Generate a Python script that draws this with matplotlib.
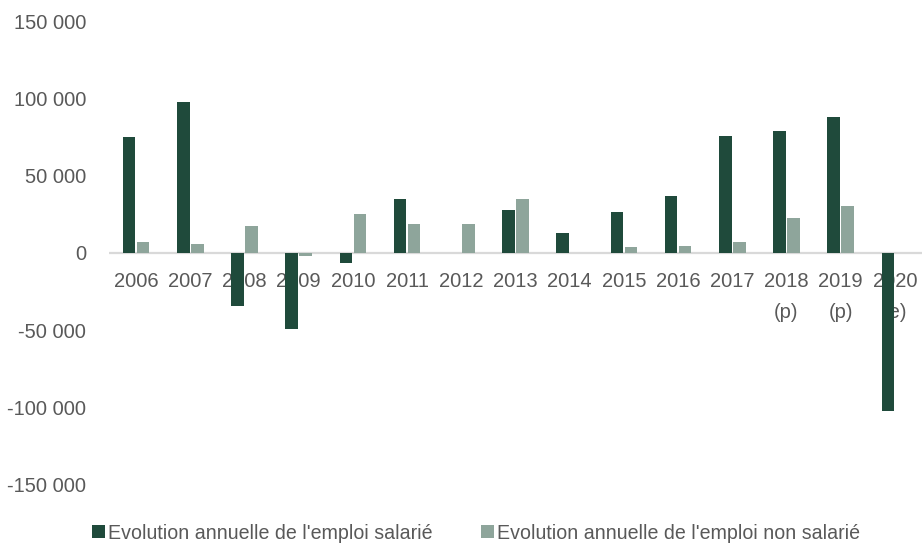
import numpy as np
import matplotlib
matplotlib.use('Agg')
import matplotlib.pyplot as plt
from matplotlib.ticker import FuncFormatter

# annual change in employment, 2006-2020
years = ['2006', '2007', '2008', '2009', '2010', '2011', '2012', '2013',
         '2014', '2015', '2016', '2017', '2018\n(p)', '2019\n(p)', '2020\n(e)']
salaried = [75000, 98000, -34500, -49500, -6300, 35000, 0, 28000,
            13000, 26600, 37000, 75500, 79000, 88000, -102500]
non_salaried = [7000, 6000, 17500, -2000, 25300, 18800, 18800, 35000,
                0, 3900, 4500, 7100, 22700, 30200, 0]
labels = ["Evolution annuelle de l'emploi salarié",
          "Evolution annuelle de l'emploi non salarié"]

DARK = '#1f4a3b'
LIGHT = '#8ea59b'
TEXT = '#595959'

plt.rcParams['font.family'] = ['Liberation Sans', 'DejaVu Sans']

fig = plt.figure(figsize=(9.22, 5.44), dpi=100)
ax = fig.add_axes([0.1182, 0.1092, 0.8818, 0.8515])

x = np.arange(len(years))
w = 0.232
gap = 0.028
ax.bar(x - (w + gap) / 2, salaried, w, color=DARK, linewidth=0,
       label=labels[0], zorder=2)
ax.bar(x + (w + gap) / 2, non_salaried, w, color=LIGHT, linewidth=0,
       label=labels[1], zorder=2)

ax.axhline(0, color='#d9d9d9', linewidth=1.6, zorder=1)
ax.set_xlim(-0.5, len(years) - 0.5)
ax.set_ylim(-150000, 150000)
ax.set_yticks(np.arange(-150000, 150001, 50000))
ax.yaxis.set_major_formatter(FuncFormatter(lambda v, p: f'{int(v):,}'.replace(',', ' ')))

for s in ax.spines.values():
    s.set_visible(False)
ax.tick_params(axis='both', length=0, labelsize=14.5, labelcolor=TEXT)
ax.tick_params(axis='y', pad=16.5)
ax.set_xticks(x)
ax.set_xticklabels([])

# year labels sit just under the zero line, not at the bottom of the axes
for xi, lab in zip(x, years):
    ax.text(xi, -12500, lab, ha='center', va='top', fontsize=14.5,
            color=TEXT, linespacing=1.75, zorder=1)

fig.legend(loc='center left', bbox_to_anchor=(0.1, 0.02), ncol=2,
           frameon=False, fontsize=14.1, labelcolor=TEXT,
           handlelength=0.64, handleheight=0.64, handletextpad=0.19,
           columnspacing=2.46, borderpad=0, borderaxespad=0)

fig.savefig('out.png', dpi=100)
